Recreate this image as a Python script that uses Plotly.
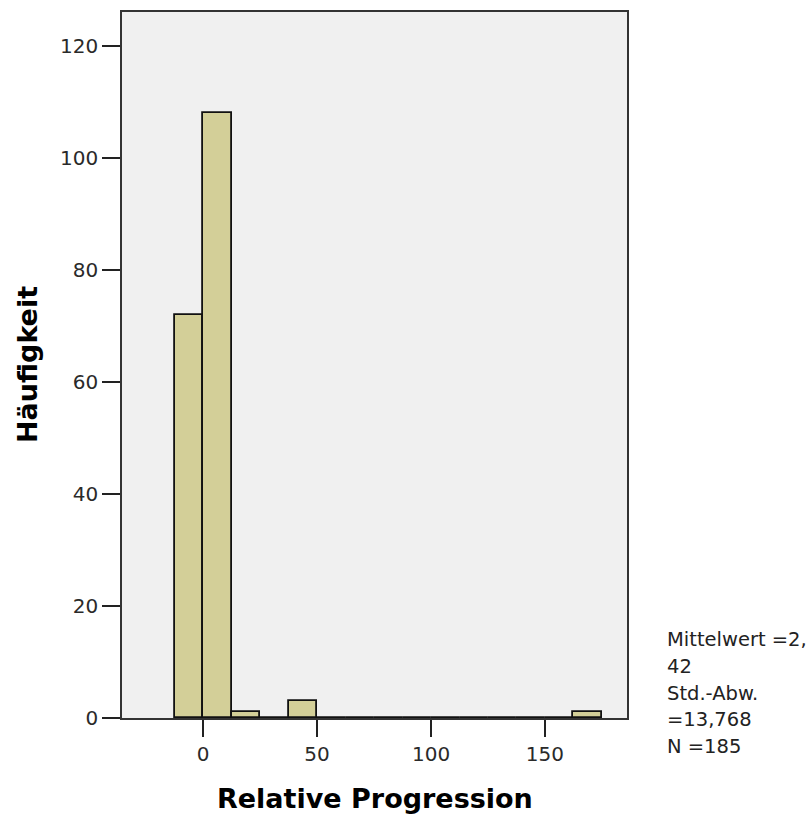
import plotly.graph_objects as go

# Data
bin_edges = [-12.5, 0, 12.5, 25, 37.5, 50, 62.5, 75, 87.5, 100, 112.5, 125, 137.5, 150, 162.5, 175]
counts = [72, 108, 1, 0, 3, 0, 0, 0, 0, 0, 0, 0, 0, 0, 1]
x_ticks = [0, 50, 100, 150]
y_ticks = [0, 20, 40, 60, 80, 100, 120]
stats_lines = ["Mittelwert =2,", "42", "Std.-Abw.", "=13,768", "N =185"]
x_title = "Relative Progression"
y_title = "Häufigkeit"

centers = [(a + b) / 2 for a, b in zip(bin_edges[:-1], bin_edges[1:])]
widths = [b - a for a, b in zip(bin_edges[:-1], bin_edges[1:])]

W, H = 807, 816
L, R, T, B = 122, 180, 10, 98
plot_h = H - T - B

fig = go.Figure()
fig.add_trace(go.Bar(
    x=centers, y=counts, width=widths,
    marker=dict(color="#D3CF98", line=dict(color="#111111", width=1.8)),
    showlegend=False, hoverinfo="x+y",
))

tickfont = dict(family="DejaVu Sans", size=20, color="#2a2a2a")
fig.update_layout(
    width=W, height=H,
    margin=dict(l=L, r=R, t=T, b=B, pad=0),
    paper_bgcolor="white", plot_bgcolor="#F0F0F0",
    bargap=0,
    xaxis=dict(range=[-35.6, 186.0], tickvals=x_ticks, ticks="outside", ticklen=17, tickwidth=2,
               tickcolor="#222222", showline=True, linecolor="#333333", linewidth=1.5, mirror=True,
               showgrid=False, zeroline=False, tickfont=tickfont),
    yaxis=dict(range=[0, 126.1], tickvals=y_ticks, ticks="outside", ticklen=18, tickwidth=2,
               tickcolor="#222222", showline=True, linecolor="#333333", linewidth=1.5, mirror=True,
               showgrid=False, zeroline=False, tickfont=tickfont),
)

title_font = dict(family="DejaVu Sans", size=27, color="#000000")
fig.add_annotation(text="<b>%s</b>" % x_title, xref="paper", yref="paper", x=0.5, y=0,
                   yshift=-80, xanchor="center", yanchor="middle", showarrow=False, font=title_font)
fig.add_annotation(text="<b>%s</b>" % y_title, xref="paper", yref="paper", x=0, y=0.5,
                   xshift=-(L - 27), xanchor="center", yanchor="middle", textangle=-90,
                   showarrow=False, font=title_font)

line_px = [639, 666, 693, 720, 747]
for txt, py in zip(stats_lines, line_px):
    fig.add_annotation(text=txt, xref="paper", yref="paper", x=1, y=(H - B - py) / plot_h,
                       xshift=665 - (W - R), xanchor="left", yanchor="middle", showarrow=False,
                       font=dict(family="DejaVu Sans", size=19.5, color="#222222"))

fig.write_html("out.html", config={"displayModeBar": False})

# remove the default body margin so the figure sits at the page origin
with open("out.html", "r", encoding="utf-8") as f:
    html = f.read()
html = html.replace("<head>", "<head><style>html,body{margin:0;padding:0;overflow:hidden;}</style>", 1)
with open("out.html", "w", encoding="utf-8") as f:
    f.write(html)
